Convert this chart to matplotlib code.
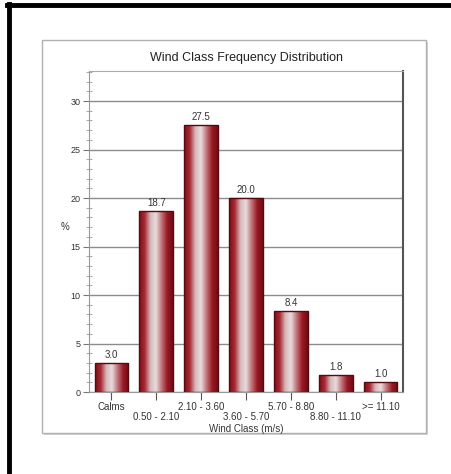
import numpy as np
import matplotlib.pyplot as plt
from matplotlib.patches import Rectangle
from matplotlib.lines import Line2D
from matplotlib.colors import LinearSegmentedColormap
from matplotlib.ticker import MultipleLocator

plt.rcParams['font.family'] = ['Liberation Sans', 'DejaVu Sans']

classes = ['Calms', '0.50 - 2.10', '2.10 - 3.60', '3.60 - 5.70',
           '5.70 - 8.80', '8.80 - 11.10', '>= 11.10']
freq = [3.0, 18.7, 27.5, 20.0, 8.4, 1.8, 1.0]

W, H = 451, 474
fig = plt.figure(figsize=(W / 100, H / 100), dpi=100)

# black frame on top and left
fig.add_artist(Line2D([8.5 / W, 8.5 / W], [0, 1 - 4 / H], color='black', lw=3.5))
fig.add_artist(Line2D([7 / W, 1], [1 - 5 / H, 1 - 5 / H], color='black', lw=3.5))

# chart panel with a soft shadow, kept behind the axes
fig.add_artist(Rectangle((44 / W, 1 - 435 / H), 384 / W, 393 / H,
                         facecolor='#d4d4d4', edgecolor='none', zorder=-5))
fig.add_artist(Rectangle((42 / W, 1 - 433 / H), 384 / W, 393 / H,
                         facecolor='white', edgecolor='#b0b0b0', lw=1, zorder=-4))

ax = fig.add_axes([89 / W, 1 - 392 / H, 314 / W, 321 / H])
ax.patch.set_alpha(0)
x = np.arange(len(classes))

ax.yaxis.set_major_locator(MultipleLocator(5))
ax.yaxis.set_minor_locator(MultipleLocator(1))
ax.grid(axis='y', which='major', color='#8c8c8c', lw=1)
ax.set_axisbelow(True)

# bars with a cylindrical shading
cmap = LinearSegmentedColormap.from_list(
    'cyl', ['#7a1018', '#a82a34', '#d8b8bc', '#e8dcdc', '#c0747a', '#9a1a24', '#6e0c14'])
grad = np.linspace(0, 1, 128).reshape(1, -1)
bars = ax.bar(x, freq, width=0.75, facecolor='none', edgecolor='#5a0810', lw=1, zorder=3)
for b in bars:
    bx, by = b.get_x(), b.get_y()
    bw, bh = b.get_width(), b.get_height()
    im = ax.imshow(grad, cmap=cmap, aspect='auto', extent=(bx, bx + bw, by, by + bh),
                   zorder=2, interpolation='bilinear')
    im.set_clip_path(b)
for xi, v in zip(x, freq):
    ax.text(xi, v + 0.3, f'{v:.1f}', ha='center', va='bottom', fontsize=7, color='#333333')

ax.set_xticks(x)
ax.set_xticklabels([c if i % 2 == 0 else '\n' + c for i, c in enumerate(classes)],
                   fontsize=7, color='#333333', linespacing=1.05)
ax.tick_params(axis='x', direction='inout', length=12, width=0.8, color='#555555', pad=1)
ax.tick_params(axis='y', which='major', direction='out', length=4, width=0.8,
               color='#777777', labelsize=6.5, labelcolor='#333333', pad=2)
ax.tick_params(axis='y', which='minor', direction='inout', length=4, width=0.6, color='#999999')
ax.set_xlim(-0.5, len(classes) - 0.5)
ax.set_ylim(0, 33.1)

for s in ['left', 'bottom']:
    ax.spines[s].set_color('#999999')
ax.spines['top'].set_color('#aaaaaa')
ax.spines['right'].set_color('#555555')
ax.spines['right'].set_linewidth(1.5)

ax.set_title('Wind Class Frequency Distribution', fontsize=9, color='#222222', pad=7)
ax.set_xlabel('Wind Class (m/s)', fontsize=7, color='#333333', labelpad=1)
ax.set_ylabel('%', fontsize=7, color='#333333', rotation=0, labelpad=4)

fig.savefig('out.png', dpi=100)
